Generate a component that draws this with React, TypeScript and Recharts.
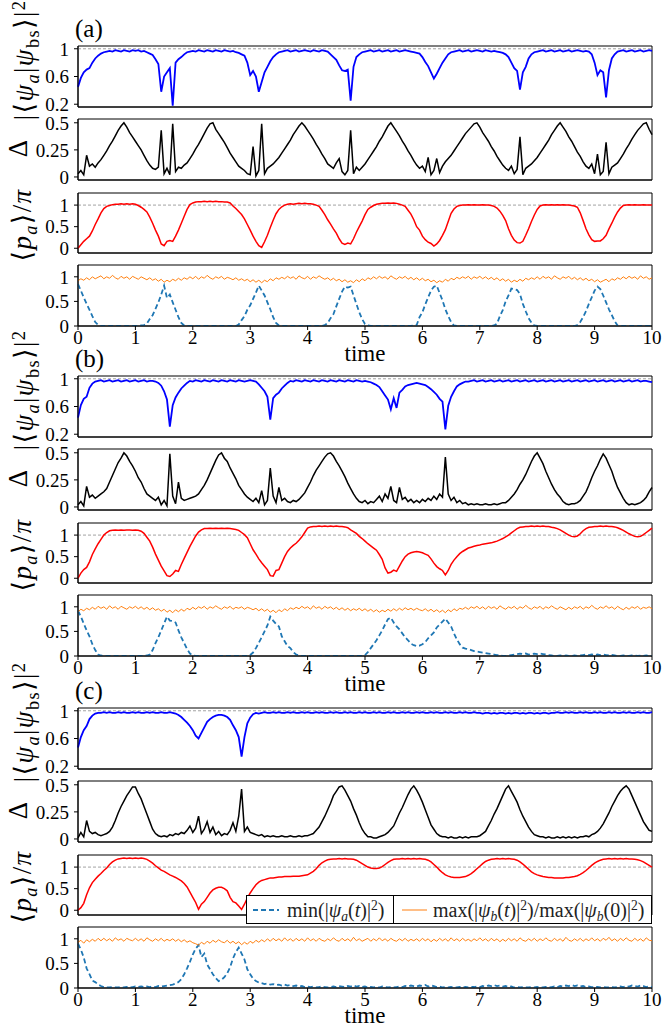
import React from 'react'
import { LineChart, Line, XAxis, YAxis, ReferenceLine, ReferenceArea, Legend } from 'recharts'

const serif = '"Liberation Serif", "DejaVu Serif", serif'

// time grid, 0..10 in steps of 0.05
const time = Array.from({ length: 201 }, (_, i) => Math.round(i * 5) / 100)
const xTicks = [0, 1, 2, 3, 4, 5, 6, 7, 8, 9, 10]
const fidTicks = [0.2, 0.6, 1]
const deltaTicks = [0, 0.25, 0.5]
const halfTicks = [0, 0.5, 1]

// ---- (a)
const fidA = [
  0.45,0.58,0.66,0.70,0.72,0.80,0.86,0.90,0.93,0.95,0.96,0.97,0.96,0.98,0.97,0.96,0.98,0.97,0.96,0.98,
  0.97,0.98,0.96,0.97,0.95,0.93,0.91,0.85,0.78,0.38,0.60,0.66,0.72,0.18,0.80,0.85,0.88,0.92,0.95,0.96,
  0.97,0.96,0.98,0.97,0.96,0.98,0.97,0.96,0.98,0.97,0.96,0.98,0.97,0.96,0.97,0.95,0.94,0.92,0.90,0.80,
  0.62,0.68,0.60,0.38,0.52,0.66,0.74,0.82,0.88,0.92,0.95,0.96,0.97,0.98,0.96,0.97,0.98,0.96,0.97,0.98,
  0.97,0.96,0.98,0.97,0.96,0.98,0.97,0.96,0.92,0.88,0.84,0.76,0.69,0.68,0.70,0.25,0.74,0.88,0.92,0.95,
  0.96,0.97,0.98,0.96,0.97,0.98,0.96,0.97,0.98,0.96,0.97,0.98,0.96,0.97,0.98,0.97,0.96,0.95,0.94,0.93,
  0.88,0.81,0.75,0.66,0.57,0.64,0.72,0.80,0.86,0.92,0.95,0.96,0.97,0.98,0.96,0.97,0.98,0.96,0.97,0.98,
  0.97,0.96,0.98,0.97,0.96,0.97,0.96,0.95,0.94,0.92,0.88,0.80,0.72,0.68,0.41,0.66,0.74,0.86,0.92,0.95,
  0.96,0.97,0.98,0.96,0.97,0.98,0.96,0.97,0.98,0.96,0.97,0.98,0.96,0.97,0.98,0.97,0.96,0.97,0.96,0.92,
  0.80,0.62,0.69,0.66,0.30,0.69,0.86,0.92,0.96,0.97,0.98,0.96,0.97,0.98,0.96,0.97,0.98,0.96,0.97,0.98,0.97,
]
const deltaA = [
  0.03,0.06,0.02,0.20,0.10,0.12,0.09,0.13,0.16,0.20,0.24,0.29,0.33,0.38,0.43,0.47,0.50,0.46,0.41,0.37,
  0.33,0.29,0.25,0.20,0.15,0.11,0.08,0.07,0.09,0.43,0.03,0.08,0.02,0.49,0.05,0.09,0.08,0.11,0.13,0.17,
  0.21,0.26,0.30,0.35,0.40,0.45,0.49,0.50,0.44,0.40,0.36,0.32,0.27,0.22,0.18,0.14,0.10,0.08,0.06,0.03,
  0.02,0.28,0.01,0.06,0.49,0.03,0.08,0.10,0.12,0.15,0.18,0.22,0.26,0.30,0.34,0.39,0.43,0.47,0.50,0.47,
  0.43,0.39,0.35,0.30,0.26,0.21,0.17,0.12,0.10,0.08,0.13,0.17,0.05,0.02,0.06,0.43,0.03,0.09,0.06,0.09,
  0.12,0.16,0.20,0.24,0.28,0.33,0.37,0.42,0.47,0.50,0.46,0.42,0.38,0.33,0.29,0.24,0.20,0.15,0.11,0.08,
  0.10,0.05,0.18,0.02,0.06,0.17,0.04,0.10,0.14,0.17,0.20,0.24,0.28,0.32,0.36,0.40,0.43,0.46,0.49,0.50,
  0.46,0.41,0.37,0.33,0.28,0.24,0.19,0.15,0.11,0.08,0.06,0.10,0.03,0.07,0.37,0.02,0.08,0.10,0.12,0.15,
  0.18,0.22,0.26,0.30,0.34,0.39,0.43,0.47,0.50,0.46,0.42,0.37,0.33,0.28,0.23,0.19,0.14,0.10,0.08,0.12,
  0.03,0.21,0.02,0.05,0.32,0.03,0.09,0.11,0.13,0.17,0.21,0.26,0.30,0.35,0.39,0.43,0.46,0.49,0.50,0.44,0.39,
]
const momA = [
  0.00,0.08,0.16,0.22,0.28,0.40,0.55,0.68,0.82,0.92,0.97,0.99,1.01,1.02,1.02,1.03,1.02,1.03,1.02,1.03,
  1.02,0.99,0.95,0.90,0.84,0.72,0.58,0.42,0.28,0.10,0.06,0.16,0.18,0.16,0.28,0.42,0.58,0.74,0.90,1.01,
  1.05,1.07,1.08,1.08,1.09,1.08,1.09,1.08,1.09,1.08,1.08,1.07,1.07,1.05,0.98,0.92,0.85,0.78,0.68,0.55,
  0.42,0.28,0.16,0.06,0.02,0.15,0.30,0.48,0.65,0.80,0.90,0.96,1.00,1.02,1.03,1.02,1.03,1.04,1.03,1.04,
  1.03,1.03,1.02,1.00,0.97,0.88,0.78,0.66,0.56,0.45,0.35,0.22,0.12,0.09,0.12,0.10,0.22,0.37,0.50,0.63,
  0.78,0.90,0.95,0.99,1.02,1.03,1.04,1.04,1.05,1.04,1.05,1.04,1.02,1.00,0.97,0.88,0.79,0.66,0.50,0.42,
  0.28,0.20,0.14,0.11,0.05,0.10,0.18,0.30,0.43,0.62,0.81,0.91,0.97,0.99,1.00,1.00,1.01,1.00,1.01,1.00,
  1.00,1.01,1.00,1.00,0.99,0.97,0.93,0.86,0.76,0.64,0.45,0.30,0.19,0.13,0.12,0.16,0.30,0.45,0.62,0.77,
  0.90,0.98,1.00,1.01,1.00,1.01,1.00,1.01,1.00,1.01,1.00,1.00,0.99,0.98,0.95,0.82,0.64,0.45,0.31,0.20,
  0.16,0.17,0.17,0.22,0.30,0.45,0.58,0.72,0.84,0.93,0.99,1.00,1.01,1.00,1.01,1.00,1.00,1.01,1.00,1.00,1.00,
]
const minA = [
  0.85,0.72,0.58,0.45,0.33,0.20,0.08,0.02,0,0,0,0,0,0,0,0,0,0,0,0,
  0,0,0.01,0.02,0.05,0.14,0.22,0.35,0.48,0.64,0.82,0.57,0.64,0.48,0.33,0.18,0.06,0.01,0,0,
  0,0,0,0,0,0,0,0,0,0,0,0,0,0,0,0,0.03,0.12,0.20,0.33,
  0.42,0.55,0.68,0.82,0.72,0.62,0.48,0.34,0.18,0.06,0.01,0,0,0,0,0,0,0,0,0,
  0,0,0,0,0,0,0.02,0.06,0.16,0.24,0.40,0.55,0.70,0.80,0.78,0.80,0.62,0.45,0.28,0.14,
  0.04,0.01,0,0,0,0,0,0,0,0,0,0,0,0,0,0,0,0.01,0.02,0.18,
  0.28,0.44,0.58,0.72,0.80,0.82,0.67,0.52,0.34,0.20,0.08,0.01,0,0,0,0,0,0,0,0,
  0,0,0,0,0,0.01,0.05,0.20,0.32,0.50,0.62,0.76,0.75,0.73,0.65,0.45,0.30,0.16,0.07,0.01,
  0,0,0,0,0,0,0,0,0,0,0,0,0,0,0.02,0.08,0.18,0.30,0.45,0.58,
  0.72,0.80,0.75,0.62,0.48,0.34,0.22,0.10,0.01,0,0,0,0,0,0,0,0,0,0,0,0,
]
const maxA = [
  0.92,0.96,0.93,0.98,0.94,1.00,0.96,0.99,1.02,0.96,1.00,0.97,1.03,0.98,0.95,1.01,0.97,1.00,0.95,1.01,
  0.98,0.95,1.00,0.97,0.94,0.98,0.93,0.96,0.91,0.95,0.89,0.93,0.90,0.95,0.92,0.97,0.93,0.98,0.95,1.00,
  0.96,1.01,0.95,1.00,0.97,1.03,0.98,0.95,1.00,0.97,1.01,0.95,0.99,0.97,0.94,0.98,0.93,0.96,0.92,0.95,
  0.90,0.94,0.89,0.93,0.88,0.93,0.90,0.96,0.92,0.98,0.95,0.99,0.96,1.01,0.97,1.00,0.95,1.02,0.98,0.96,
  1.01,0.95,1.00,0.97,1.02,0.98,0.95,0.98,0.93,0.97,0.92,0.95,0.90,0.94,0.89,0.92,0.88,0.94,0.90,0.96,
  0.92,0.98,0.95,1.00,0.96,1.01,0.97,1.00,0.95,1.02,0.98,0.95,1.00,0.97,1.01,0.95,0.99,0.94,0.98,0.93,
  0.97,0.92,0.95,0.90,0.93,0.88,0.92,0.89,0.95,0.91,0.97,0.94,0.99,0.96,1.00,0.97,1.01,0.95,1.00,0.97,
  1.01,0.96,1.00,0.95,0.99,0.94,0.98,0.92,0.96,0.91,0.95,0.89,0.93,0.90,0.95,0.91,0.97,0.94,0.98,0.95,
  1.00,0.95,1.01,0.97,1.00,0.95,1.02,0.98,0.95,1.00,0.97,1.01,0.95,0.99,0.94,0.98,0.93,0.97,0.92,0.95,
  0.90,0.94,0.89,0.92,0.95,0.90,0.96,0.93,0.98,0.95,1.00,0.96,1.01,0.97,1.00,0.95,1.02,0.97,1.00,0.95,0.98,
]

// ---- (b)
const fidB = [
  0.44,0.62,0.71,0.74,0.87,0.93,0.96,0.97,0.98,0.96,0.97,0.98,0.96,0.97,0.98,0.96,0.97,0.98,0.96,0.97,
  0.98,0.96,0.97,0.98,0.96,0.97,0.97,0.96,0.94,0.90,0.82,0.70,0.31,0.62,0.73,0.80,0.86,0.90,0.94,0.97,
  0.96,0.98,0.97,0.96,0.98,0.97,0.96,0.98,0.97,0.96,0.98,0.97,0.96,0.98,0.97,0.96,0.98,0.97,0.96,0.97,
  0.98,0.97,0.96,0.92,0.87,0.82,0.74,0.41,0.72,0.77,0.80,0.86,0.90,0.94,0.97,0.96,0.98,0.97,0.96,0.98,
  0.97,0.96,0.98,0.97,0.96,0.98,0.97,0.96,0.98,0.97,0.96,0.98,0.97,0.96,0.98,0.97,0.96,0.98,0.97,0.96,
  0.97,0.96,0.95,0.93,0.91,0.88,0.82,0.76,0.70,0.56,0.72,0.58,0.80,0.84,0.89,0.91,0.92,0.93,0.94,0.93,
  0.92,0.91,0.88,0.85,0.81,0.77,0.71,0.67,0.27,0.61,0.74,0.82,0.89,0.92,0.94,0.96,0.96,0.97,0.98,0.96,
  0.97,0.98,0.96,0.97,0.98,0.96,0.97,0.98,0.96,0.97,0.98,0.96,0.97,0.98,0.96,0.97,0.98,0.96,0.97,0.98,
  0.96,0.97,0.98,0.96,0.97,0.98,0.96,0.97,0.98,0.96,0.97,0.98,0.96,0.97,0.98,0.96,0.97,0.98,0.96,0.97,
  0.98,0.96,0.97,0.98,0.96,0.97,0.98,0.96,0.97,0.98,0.96,0.97,0.98,0.96,0.97,0.98,0.96,0.97,0.97,0.96,0.95,
]
const deltaB = [
  0.02,0.05,0.01,0.19,0.09,0.11,0.08,0.10,0.12,0.14,0.17,0.23,0.29,0.35,0.41,0.45,0.50,0.47,0.42,0.38,
  0.33,0.27,0.23,0.17,0.12,0.10,0.08,0.06,0.09,0.02,0.06,0.01,0.49,0.10,0.03,0.23,0.08,0.06,0.07,0.08,
  0.09,0.10,0.12,0.16,0.20,0.25,0.31,0.37,0.43,0.48,0.50,0.45,0.42,0.36,0.31,0.26,0.20,0.16,0.12,0.09,
  0.07,0.05,0.08,0.04,0.15,0.02,0.06,0.36,0.10,0.04,0.18,0.06,0.08,0.05,0.04,0.06,0.05,0.07,0.10,0.13,
  0.18,0.23,0.29,0.34,0.38,0.42,0.46,0.49,0.50,0.47,0.42,0.38,0.33,0.28,0.22,0.17,0.12,0.08,0.05,0.04,
  0.06,0.03,0.05,0.04,0.07,0.10,0.05,0.12,0.08,0.19,0.06,0.04,0.18,0.07,0.09,0.05,0.07,0.04,0.06,0.04,
  0.07,0.05,0.08,0.06,0.10,0.07,0.12,0.09,0.46,0.12,0.06,0.09,0.04,0.06,0.03,0.04,0.02,0.03,0.02,0.03,
  0.02,0.02,0.03,0.02,0.02,0.03,0.02,0.03,0.04,0.04,0.06,0.09,0.12,0.16,0.21,0.25,0.30,0.36,0.42,0.47,
  0.50,0.45,0.40,0.33,0.27,0.21,0.16,0.12,0.09,0.05,0.03,0.02,0.03,0.03,0.04,0.06,0.10,0.14,0.20,0.27,
  0.33,0.38,0.44,0.49,0.45,0.39,0.33,0.25,0.18,0.13,0.08,0.04,0.02,0.03,0.02,0.03,0.04,0.06,0.09,0.14,0.18,
]
const momB = [
  0.00,0.12,0.20,0.25,0.38,0.55,0.68,0.80,0.90,1.00,1.06,1.10,1.11,1.12,1.11,1.12,1.11,1.12,1.12,1.11,
  1.12,1.11,1.09,1.04,0.95,0.86,0.72,0.56,0.42,0.28,0.17,0.06,0.04,0.10,0.18,0.16,0.32,0.46,0.60,0.74,
  0.86,0.98,1.07,1.12,1.15,1.15,1.16,1.15,1.16,1.15,1.16,1.15,1.16,1.15,1.14,1.13,1.11,1.06,1.01,0.94,
  0.80,0.66,0.56,0.45,0.36,0.28,0.20,0.06,0.05,0.18,0.20,0.35,0.50,0.62,0.70,0.76,0.81,0.88,0.96,1.06,
  1.16,1.19,1.20,1.20,1.21,1.20,1.21,1.20,1.21,1.20,1.21,1.20,1.20,1.19,1.17,1.12,1.08,1.04,0.97,0.92,
  0.86,0.80,0.75,0.70,0.65,0.55,0.44,0.24,0.12,0.14,0.19,0.16,0.28,0.40,0.50,0.56,0.59,0.61,0.62,0.61,
  0.59,0.56,0.53,0.45,0.35,0.27,0.22,0.18,0.08,0.18,0.32,0.42,0.50,0.57,0.62,0.66,0.70,0.72,0.74,0.76,
  0.77,0.79,0.80,0.81,0.82,0.84,0.86,0.89,0.92,0.96,1.00,1.05,1.10,1.15,1.18,1.19,1.20,1.20,1.21,1.20,
  1.21,1.20,1.21,1.20,1.20,1.18,1.17,1.15,1.12,1.08,1.04,1.00,0.97,0.96,0.98,1.03,1.10,1.15,1.18,1.19,
  1.20,1.20,1.21,1.20,1.21,1.20,1.20,1.19,1.17,1.14,1.11,1.07,1.03,1.00,0.97,0.96,0.97,1.01,1.06,1.11,1.16,
]
const minB = [
  0.92,0.80,0.66,0.52,0.40,0.24,0.12,0.03,0.01,0,0,0,0,0,0,0,0,0,0,0,
  0,0,0,0,0.01,0.03,0.12,0.26,0.38,0.52,0.66,0.80,0.72,0.71,0.68,0.52,0.38,0.26,0.14,0.05,
  0.01,0,0,0,0,0,0,0,0,0,0,0,0,0,0,0,0,0,0,0,
  0.02,0.07,0.16,0.27,0.38,0.50,0.62,0.80,0.72,0.65,0.60,0.40,0.30,0.20,0.16,0.08,0.03,0.01,0,0,
  0,0,0,0,0,0,0,0,0,0,0,0,0,0,0,0,0,0,0,0,
  0.02,0.08,0.16,0.24,0.32,0.42,0.52,0.64,0.75,0.78,0.68,0.60,0.54,0.46,0.38,0.32,0.25,0.22,0.20,0.21,
  0.24,0.28,0.36,0.42,0.48,0.58,0.64,0.70,0.76,0.68,0.60,0.46,0.34,0.24,0.17,0.15,0.14,0.12,0.10,0.09,
  0.08,0.07,0.06,0.05,0.04,0.03,0.02,0.01,0,0,0.01,0.02,0.03,0.04,0.05,0.04,0.05,0.03,0.04,0.05,
  0.04,0.05,0.04,0.03,0.02,0.01,0,0,0.01,0,0.01,0,0,0.01,0,0.01,0.02,0.03,0.02,0.03,
  0.02,0.03,0.02,0.03,0.02,0.01,0.02,0.01,0,0,0.01,0,0,0.01,0.01,0,0.01,0,0.01,0,0,
]
const maxB = [
  0.90,0.95,0.92,0.97,0.94,0.99,0.95,1.01,0.97,1.00,0.95,1.02,0.97,1.00,0.95,1.01,0.98,0.95,1.00,0.97,
  1.01,0.96,1.00,0.95,0.99,0.94,0.98,0.93,0.96,0.91,0.95,0.89,0.93,0.88,0.94,0.90,0.95,0.91,0.97,0.94,
  0.99,0.95,1.00,0.97,1.01,0.95,1.00,0.97,1.02,0.98,0.95,1.00,0.97,1.01,0.95,0.99,0.97,1.00,0.95,0.99,
  0.97,0.94,0.97,0.92,0.96,0.91,0.95,0.89,0.93,0.88,0.94,0.90,0.96,0.92,0.98,0.95,0.99,0.96,1.01,0.97,
  1.00,0.95,1.02,0.97,1.00,0.95,1.01,0.97,1.00,0.95,0.99,0.94,0.98,0.93,0.97,0.92,0.96,0.93,0.97,0.92,
  0.96,0.91,0.95,0.90,0.94,0.89,0.93,0.90,0.95,0.91,0.96,0.92,0.97,0.93,0.98,0.94,0.97,0.93,0.97,0.94,
  0.92,0.96,0.91,0.95,0.90,0.94,0.89,0.93,0.88,0.94,0.90,0.96,0.92,0.97,0.95,0.99,0.95,1.00,0.97,1.01,
  0.96,1.00,0.95,1.01,0.97,1.00,0.95,1.02,0.98,0.95,1.00,0.97,1.01,0.95,1.00,0.97,1.03,0.98,0.95,1.00,
  0.97,1.01,0.95,1.00,0.97,1.02,0.98,0.95,1.00,0.97,0.94,0.99,0.95,1.00,0.97,1.01,0.95,1.00,0.97,1.03,
  0.98,0.95,1.00,0.97,1.02,0.97,1.00,0.95,1.01,0.97,0.94,0.99,0.95,1.00,0.97,1.01,0.95,0.99,0.97,1.00,0.96,
]

// ---- (c)
const fidC = [
  0.47,0.62,0.72,0.78,0.88,0.93,0.96,0.97,0.97,0.98,0.97,0.98,0.97,0.97,0.98,0.97,0.98,0.97,0.97,0.98,
  0.97,0.98,0.97,0.97,0.98,0.97,0.98,0.97,0.97,0.98,0.97,0.97,0.98,0.97,0.96,0.94,0.91,0.87,0.83,0.78,
  0.72,0.64,0.60,0.68,0.76,0.84,0.88,0.91,0.93,0.94,0.94,0.93,0.91,0.87,0.79,0.72,0.62,0.34,0.62,0.82,
  0.90,0.95,0.97,0.96,0.97,0.98,0.97,0.97,0.98,0.97,0.98,0.97,0.97,0.98,0.97,0.98,0.97,0.97,0.98,0.97,
  0.98,0.97,0.97,0.98,0.97,0.98,0.97,0.97,0.98,0.97,0.98,0.97,0.97,0.98,0.97,0.98,0.97,0.97,0.98,0.97,
  0.98,0.97,0.97,0.98,0.97,0.98,0.97,0.97,0.98,0.97,0.98,0.97,0.97,0.98,0.97,0.98,0.97,0.97,0.98,0.97,
  0.98,0.97,0.97,0.98,0.97,0.98,0.97,0.97,0.98,0.97,0.98,0.97,0.97,0.98,0.97,0.98,0.97,0.97,0.98,0.97,
  0.97,0.96,0.97,0.97,0.96,0.97,0.96,0.97,0.97,0.96,0.97,0.96,0.97,0.97,0.96,0.97,0.96,0.97,0.97,0.96,
  0.97,0.96,0.97,0.97,0.96,0.97,0.97,0.98,0.97,0.97,0.98,0.97,0.98,0.97,0.97,0.98,0.97,0.98,0.97,0.97,
  0.98,0.97,0.98,0.97,0.97,0.98,0.97,0.98,0.97,0.97,0.98,0.97,0.98,0.97,0.97,0.98,0.97,0.98,0.97,0.97,0.98,
]
const deltaC = [
  0.01,0.06,0.02,0.17,0.07,0.05,0.06,0.04,0.03,0.04,0.05,0.07,0.11,0.17,0.24,0.30,0.35,0.40,0.44,0.48,
  0.48,0.42,0.37,0.30,0.23,0.16,0.09,0.05,0.03,0.02,0.03,0.02,0.04,0.03,0.05,0.04,0.06,0.05,0.08,0.12,
  0.06,0.10,0.21,0.05,0.09,0.16,0.06,0.11,0.04,0.07,0.03,0.05,0.04,0.08,0.15,0.07,0.21,0.46,0.07,0.11,
  0.06,0.05,0.04,0.03,0.04,0.02,0.03,0.02,0.03,0.02,0.02,0.03,0.02,0.02,0.03,0.02,0.02,0.03,0.02,0.03,
  0.03,0.04,0.05,0.08,0.11,0.16,0.21,0.27,0.33,0.40,0.44,0.48,0.49,0.45,0.40,0.35,0.28,0.22,0.15,0.09,
  0.05,0.02,0.02,0.01,0.01,0.02,0.03,0.04,0.06,0.09,0.12,0.18,0.24,0.29,0.35,0.41,0.46,0.49,0.45,0.40,
  0.34,0.27,0.20,0.13,0.09,0.05,0.03,0.02,0.02,0.01,0.02,0.01,0.01,0.02,0.01,0.02,0.01,0.02,0.02,0.02,
  0.03,0.05,0.07,0.12,0.17,0.23,0.28,0.34,0.40,0.46,0.49,0.44,0.39,0.34,0.27,0.21,0.16,0.11,0.07,0.04,
  0.03,0.02,0.02,0.01,0.02,0.01,0.01,0.02,0.01,0.02,0.01,0.02,0.01,0.02,0.01,0.02,0.02,0.03,0.02,0.04,
  0.05,0.07,0.10,0.14,0.19,0.24,0.30,0.35,0.40,0.44,0.47,0.49,0.46,0.40,0.34,0.28,0.22,0.16,0.12,0.08,0.07,
]
const momC = [
  0.00,0.06,0.16,0.36,0.52,0.64,0.72,0.79,0.85,0.92,0.98,1.06,1.12,1.16,1.19,1.20,1.21,1.20,1.21,1.20,
  1.21,1.20,1.21,1.20,1.18,1.14,1.09,1.03,0.98,0.93,0.90,0.86,0.82,0.79,0.76,0.72,0.68,0.62,0.54,0.42,
  0.30,0.18,0.02,0.14,0.20,0.30,0.40,0.47,0.51,0.53,0.53,0.50,0.45,0.30,0.20,0.17,0.10,0.02,0.14,0.28,
  0.40,0.50,0.59,0.65,0.69,0.71,0.73,0.75,0.75,0.76,0.77,0.77,0.78,0.78,0.78,0.79,0.79,0.79,0.80,0.81,
  0.82,0.86,0.90,0.96,1.04,1.10,1.14,1.17,1.18,1.19,1.19,1.20,1.19,1.20,1.19,1.19,1.18,1.16,1.12,1.08,
  1.04,1.00,0.98,0.97,0.97,0.98,1.01,1.06,1.11,1.15,1.18,1.19,1.19,1.20,1.19,1.20,1.19,1.20,1.19,1.20,
  1.19,1.18,1.16,1.12,1.06,1.00,0.93,0.87,0.82,0.79,0.77,0.76,0.76,0.76,0.77,0.78,0.81,0.85,0.90,0.96,
  1.02,1.08,1.13,1.16,1.18,1.19,1.20,1.19,1.20,1.19,1.20,1.19,1.18,1.16,1.12,1.07,1.01,0.95,0.89,0.85,
  0.82,0.80,0.78,0.77,0.76,0.76,0.75,0.75,0.75,0.75,0.76,0.76,0.77,0.78,0.80,0.83,0.87,0.92,0.98,1.04,
  1.09,1.13,1.16,1.18,1.19,1.20,1.19,1.20,1.19,1.20,1.19,1.20,1.19,1.19,1.18,1.17,1.15,1.12,1.08,1.04,1.00,
]
const minC = [
  0.90,0.78,0.62,0.40,0.28,0.15,0.12,0.07,0.04,0.02,0.01,0.01,0.02,0.01,0.01,0.02,0.01,0.02,0.01,0.02,
  0.03,0.02,0.03,0.02,0.03,0.02,0.03,0.02,0.04,0.03,0.04,0.05,0.06,0.07,0.09,0.12,0.18,0.28,0.40,0.53,
  0.68,0.80,0.87,0.63,0.70,0.48,0.38,0.28,0.20,0.14,0.17,0.22,0.30,0.42,0.60,0.73,0.82,0.70,0.58,0.38,
  0.28,0.19,0.14,0.11,0.10,0.08,0.09,0.07,0.08,0.06,0.07,0.05,0.07,0.05,0.06,0.04,0.05,0.03,0.04,0.02,
  0.03,0.02,0.03,0.01,0.02,0.03,0.02,0.01,0.02,0.03,0.02,0.04,0.03,0.02,0.04,0.03,0.05,0.03,0.04,0.02,
  0.03,0.01,0.02,0.01,0.02,0.01,0.03,0.02,0.01,0.02,0.01,0.02,0.03,0.02,0.04,0.03,0.05,0.04,0.03,0.05,
  0.04,0.06,0.03,0.05,0.04,0.02,0.03,0.01,0.02,0.01,0.02,0.01,0.01,0.02,0.01,0.02,0.01,0.02,0.02,0.03,
  0.02,0.04,0.03,0.05,0.04,0.06,0.04,0.05,0.03,0.04,0.02,0.03,0.01,0.02,0.01,0.02,0.01,0.01,0.02,0.01,
  0.02,0.01,0.01,0.02,0.01,0.02,0.03,0.02,0.04,0.03,0.05,0.04,0.06,0.04,0.05,0.03,0.04,0.02,0.03,0.02,
  0.01,0.02,0.01,0.02,0.01,0.01,0.02,0.01,0.02,0.03,0.02,0.04,0.03,0.05,0.04,0.03,0.05,0.04,0.02,0.03,0.02,
]
const maxC = [
  0.93,0.97,0.91,0.98,0.94,0.99,0.95,1.01,0.96,1.01,0.96,1.00,0.95,1.02,0.97,1.00,0.95,1.01,0.98,0.96,
  1.01,0.96,1.00,0.95,1.02,0.98,0.95,1.00,0.96,1.01,0.95,0.99,0.96,1.00,0.95,0.99,0.94,0.98,0.93,0.96,
  0.92,0.90,0.87,0.93,0.89,0.95,0.91,0.97,0.93,0.98,0.94,0.92,0.97,0.91,0.95,0.90,0.94,0.88,0.93,0.89,
  0.95,0.91,0.97,0.93,0.98,0.94,1.00,0.95,1.01,0.96,1.00,0.95,1.02,0.96,1.00,0.95,1.01,0.96,1.00,0.95,
  1.02,0.96,1.00,0.95,1.01,0.97,0.95,1.00,0.96,1.02,0.97,0.95,1.01,0.96,1.00,0.95,1.03,0.96,1.00,0.95,
  0.98,1.01,0.95,1.00,0.96,1.02,0.96,1.00,0.95,1.01,0.97,0.95,1.00,0.96,1.01,0.95,0.99,0.96,1.00,0.95,
  1.01,0.96,1.00,0.94,0.99,0.95,1.01,0.96,1.00,0.95,1.02,0.96,1.00,0.95,1.01,0.96,0.99,0.95,1.00,0.96,
  1.02,0.96,1.00,0.95,1.01,0.96,1.00,0.94,0.99,0.95,1.01,0.96,1.00,0.95,1.02,0.97,0.95,1.00,0.96,1.01,
  0.95,1.00,0.96,1.02,0.97,0.95,1.01,0.96,1.00,0.95,1.03,0.97,0.95,1.00,0.96,1.01,0.95,1.00,0.96,1.02,
  0.96,1.00,0.95,1.01,0.97,1.03,0.96,1.00,0.95,1.01,0.96,1.02,0.97,0.95,1.01,0.96,1.00,0.95,1.02,0.97,0.96,
]

type LineSpec = { color: string; width: number; dash?: string }

const Sub = ({ children }: { children: React.ReactNode }) => (
  <span style={{ fontSize: '0.68em', position: 'relative', top: '0.3em' }}>{children}</span>
)
const Sup = ({ children }: { children: React.ReactNode }) => (
  <span style={{ fontSize: '0.68em', position: 'relative', top: '-0.45em' }}>{children}</span>
)

function LegendBox() {
  const cell: React.CSSProperties = { display: 'flex', alignItems: 'center', height: '100%' }
  return (
    <div style={{ display: 'flex', width: 406, height: 29, boxSizing: 'border-box', border: '1px solid #000', background: '#fff', fontFamily: serif, fontSize: 20, lineHeight: 1, color: '#222', whiteSpace: 'nowrap' }}>
      <div style={{ ...cell, width: 147, borderRight: '1px solid #000', paddingLeft: 6, boxSizing: 'border-box' }}>
        <svg width={26} height={6}><line x1={0} y1={3} x2={26} y2={3} stroke="#1f77b4" strokeWidth={2} strokeDasharray="5 3" /></svg>
        <span style={{ marginLeft: 8 }}>min(|<i>ψ</i><Sub><i>a</i></Sub>(<i>t</i>)|<Sup>2</Sup>)</span>
      </div>
      <div style={{ ...cell, paddingLeft: 8 }}>
        <svg width={25} height={6}><line x1={0} y1={3} x2={25} y2={3} stroke="#ff7f0e" strokeWidth={1} /></svg>
        <span style={{ marginLeft: 6 }}>max(|<i>ψ</i><Sub><i>b</i></Sub>(<i>t</i>)|<Sup>2</Sup>)/max(|<i>ψ</i><Sub><i>b</i></Sub>(0)|<Sup>2</Sup>)</span>
      </div>
    </div>
  )
}

interface PanelProps {
  top: number
  height: number
  cols: number[][]
  lines: LineSpec[]
  domain: [number, number]
  ticks: number[]
  bottom?: boolean
  refOne?: boolean
  legend?: boolean
}

const PAD = 10

function Panel({ top, height, cols, lines, domain, ticks, bottom, refOne, legend }: PanelProps) {
  const rows = time.map((t, i) => {
    const r: Record<string, number> = { t }
    cols.forEach((c, j) => { r['s' + j] = c[i] })
    return r
  })
  const xh = bottom ? 32 : 5
  const mb = 8
  return (
    <div style={{ position: 'absolute', left: 0, top: top - PAD }}>
      <LineChart width={664} height={PAD + height + xh + mb} data={rows} margin={{ top: PAD, right: 12, bottom: mb, left: 0 }}>
        <XAxis
          dataKey="t"
          type="number"
          domain={[0, 10]}
          ticks={xTicks}
          interval={0}
          height={xh}
          axisLine={{ stroke: '#000' }}
          tickLine={{ stroke: '#000' }}
          tickSize={4}
          tickMargin={1}
          tick={bottom ? { fontSize: 19, fill: '#000', fontFamily: serif } : false}
          label={bottom ? { value: 'time', position: 'insideBottom', offset: -3, fontSize: 23, fill: '#000', fontFamily: serif } : undefined}
        />
        <YAxis
          type="number"
          domain={domain}
          ticks={ticks}
          interval={0}
          allowDataOverflow
          width={78}
          axisLine={{ stroke: '#000' }}
          tickLine={{ stroke: '#000' }}
          tickSize={4}
          tickMargin={5}
          tick={{ fontSize: 19, fill: '#000', fontFamily: serif }}
        />
        <ReferenceArea x1={0} x2={10} y1={domain[0]} y2={domain[1]} fill="none" stroke="#000" strokeWidth={1} ifOverflow="visible" />
        {refOne && <ReferenceLine y={1} stroke="#8c8c8c" strokeWidth={0.8} strokeDasharray="3 2" />}
        {lines.map((l, j) => (
          <Line
            key={j}
            dataKey={'s' + j}
            type="linear"
            stroke={l.color}
            strokeWidth={l.width}
            strokeDasharray={l.dash}
            dot={false}
            activeDot={false}
            isAnimationActive={false}
          />
        ))}
        {legend && (
          <Legend
            layout="horizontal"
            verticalAlign="middle"
            align="center"
            content={() => <LegendBox />}
            wrapperStyle={{ left: 246, top: PAD + 40, width: 406, height: 29 }}
          />
        )}
      </LineChart>
    </div>
  )
}

function Rot({ x, y, size, children }: { x: number; y: number; size: number; children: React.ReactNode }) {
  return (
    <div style={{ position: 'absolute', left: x, top: y, transform: 'translate(-50%, -50%) rotate(-90deg)', fontFamily: serif, fontSize: size, lineHeight: 1, letterSpacing: '0.05em', whiteSpace: 'nowrap', color: '#000' }}>
      {children}
    </div>
  )
}

const groups = [
  { tag: '(a)', top: 46, fid: fidA, delta: deltaA, mom: momA, min: minA, max: maxA },
  { tag: '(b)', top: 376, fid: fidB, delta: deltaB, mom: momB, min: minB, max: maxB },
  { tag: '(c)', top: 708, fid: fidC, delta: deltaC, mom: momC, min: minC, max: maxC },
]

export default function App() {
  return (
    <div style={{ position: 'absolute', left: 0, top: 0, width: 664, height: 1028, overflow: 'hidden', background: '#fff' }}>
      {groups.map((g, k) => (
        <React.Fragment key={g.tag}>
          <div style={{ position: 'absolute', left: 75, top: g.top - 31, fontFamily: serif, fontSize: 25, lineHeight: '28px' }}>{g.tag}</div>
          <Rot x={24} y={g.top + 14} size={27}>
            |⟨<i>ψ</i><Sub><i>a</i></Sub>|<i>ψ</i><Sub>bs</Sub>⟩|<Sup>2</Sup>
          </Rot>
          <Rot x={18} y={g.top + 102} size={27}>Δ</Rot>
          <Rot x={22} y={g.top + 179} size={27}>
            ⟨<i>p</i><Sub><i>a</i></Sub>⟩/<i>π</i>
          </Rot>
          <Panel top={g.top} height={61} cols={[g.fid]} lines={[{ color: '#0000ff', width: 1.8 }]} domain={[0.16, 1.04]} ticks={fidTicks} refOne />
          <Panel top={g.top + 73} height={61} cols={[g.delta]} lines={[{ color: '#000', width: 1.5 }]} domain={[-0.028, 0.535]} ticks={deltaTicks} />
          <Panel top={g.top + 147} height={60} cols={[g.mom]} lines={[{ color: '#ff0000', width: 1.5 }]} domain={[-0.11, 1.28]} ticks={halfTicks} refOne legend={k === 2} />
          <Panel
            top={g.top + 219}
            height={61}
            cols={[g.min, g.max]}
            lines={[{ color: '#1f77b4', width: 1.8, dash: '5 3' }, { color: '#ff7f0e', width: 1 }]}
            domain={[0, 1.24]}
            ticks={halfTicks}
            bottom
          />
        </React.Fragment>
      ))}
    </div>
  )
}
